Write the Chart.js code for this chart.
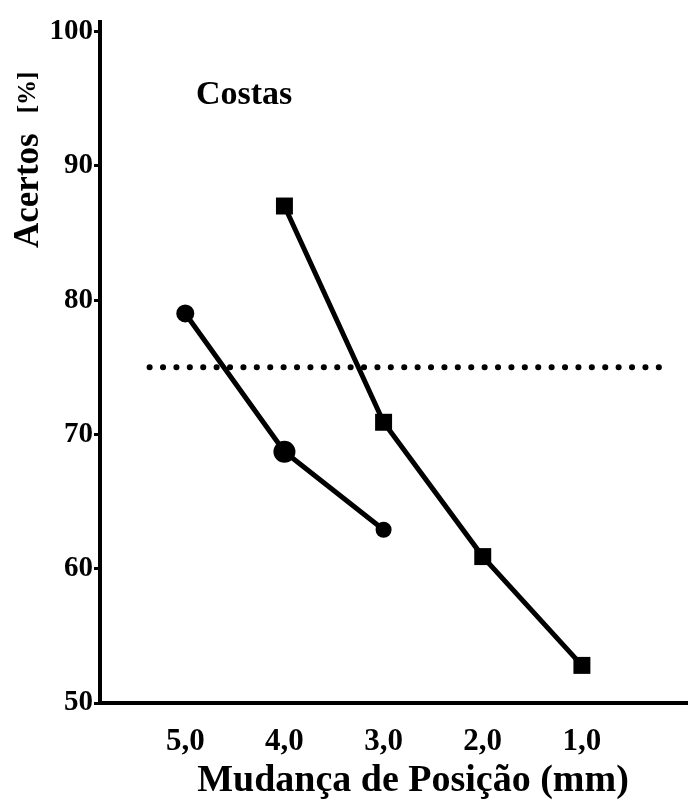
<!DOCTYPE html>
<html>
<head>
<meta charset="utf-8">
<script src="https://cdn.jsdelivr.net/npm/chart.js@4/dist/chart.umd.min.js"></script>
<style>
html,body{margin:0;padding:0;background:#fff}
#wrap{width:688px;height:802px}
</style>
</head>
<body>
<div id="wrap"><canvas id="myChart" width="688" height="802"></canvas></div>
<script>
// positions on the x axis (mm), reversed axis
const positions = [5, 4, 3, 2, 1];
const tickLabels = ['5,0', '4,0', '3,0', '2,0', '1,0'];
const yTicks = [50, 60, 70, 80, 90, 100];

// circle series
const circleX = [5, 4, 3];
const circleY = [79, 68.7, 62.9];
// square series
const squareX = [4, 3, 2, 1];
const squareY = [87, 70.9, 60.9, 52.8];
// dotted 75% line
const chanceX = [5.36, 0.14];
const chanceY = [75, 75];

const toPts = (xs, ys) => xs.map((x, i) => ({x: x, y: ys[i]}));
const FONT = "'Liberation Serif', 'DejaVu Serif', serif";

const textPlugin = {
    id: 'texts',
    afterDraw(chart) {
        const ctx = chart.ctx;
        ctx.save();
        ctx.fillStyle = '#000';
        // panel label
        ctx.font = 'bold 34px ' + FONT;
        ctx.textAlign = 'left';
        ctx.textBaseline = 'alphabetic';
        ctx.fillText('Costas', 196, 104);
        // x title
        ctx.font = 'bold 38px ' + FONT;
        ctx.textAlign = 'center';
        ctx.fillText('Mudança de Posição (mm)', 413, 791);
        // y title, rotated
        ctx.translate(38, 248);
        ctx.rotate(-Math.PI / 2);
        ctx.textAlign = 'left';
        ctx.font = 'bold 35px ' + FONT;
        ctx.fillText('Acertos', 0, 0);
        const w = ctx.measureText('Acertos').width;
        ctx.font = 'bold 25px ' + FONT;
        ctx.fillText('[%]', w + 20, -3);
        ctx.restore();
    }
};

const ctx = document.getElementById('myChart').getContext('2d');
const myChart = new Chart(ctx, {
    type: 'line',
    data: {
        datasets: [
            {
                data: toPts(chanceX, chanceY),
                borderColor: '#000',
                borderWidth: 6,
                borderDash: [0.1, 13.3],
                borderCapStyle: 'round',
                pointRadius: 0,
                order: 3
            },
            {
                data: toPts(circleX, circleY),
                borderColor: '#000',
                backgroundColor: '#000',
                borderWidth: 5,
                pointStyle: 'circle',
                pointRadius: [9, 11, 8],
                pointBorderWidth: 0,
                clip: false,
                order: 1
            },
            {
                data: toPts(squareX, squareY),
                borderColor: '#000',
                backgroundColor: '#000',
                borderWidth: 5,
                pointStyle: 'rect',
                pointRadius: 12,
                pointBorderWidth: 0,
                clip: false,
                order: 2
            }
        ]
    },
    options: {
        responsive: false,
        animation: false,
        devicePixelRatio: 1,
        layout: {autoPadding: false, padding: {top: 22, right: 0, left: 0, bottom: 0}},
        plugins: {legend: {display: false}, tooltip: {enabled: false}},
        scales: {
            x: {
                type: 'linear',
                reverse: true,
                min: -0.07,
                max: 5.86,
                afterBuildTicks: (s) => { s.ticks = positions.map(v => ({value: v})); },
                afterFit: (s) => { s.height = 99; s.paddingLeft = 0; s.paddingRight = 0; },
                ticks: {
                    color: '#000',
                    font: {family: FONT, size: 31, weight: 'bold'},
                    padding: 20,
                    maxRotation: 0,
                    autoSkip: false,
                    callback: (v) => tickLabels[positions.indexOf(v)]
                },
                grid: {display: true, drawOnChartArea: false, drawTicks: false},
                border: {display: true, color: '#000', width: 4}
            },
            y: {
                type: 'linear',
                min: 50,
                max: 100.7,
                afterBuildTicks: (s) => { s.ticks = yTicks.map(v => ({value: v})); },
                afterFit: (s) => { s.width = 100; s.paddingTop = 0; s.paddingBottom = 0; },
                ticks: {
                    color: '#000',
                    font: {family: FONT, size: 29, weight: 'bold'},
                    padding: 1
                },
                grid: {display: true, drawOnChartArea: false, drawTicks: true, tickLength: 6, tickWidth: 3, tickColor: '#000'},
                border: {display: true, color: '#000', width: 4}
            }
        }
    },
    plugins: [textPlugin]
});
</script>
</body>
</html>
